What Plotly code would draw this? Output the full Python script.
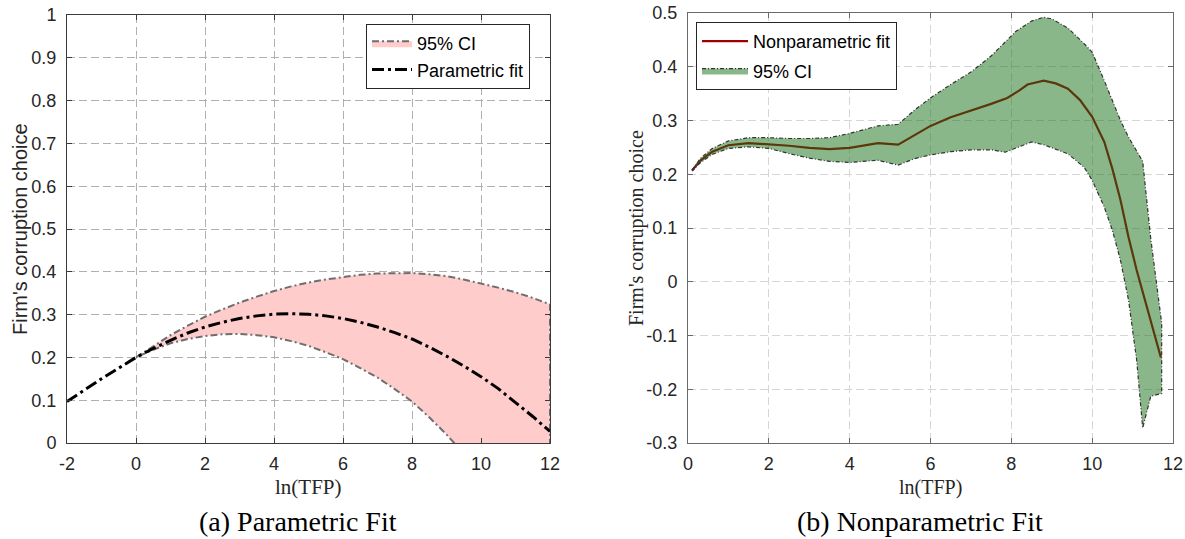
import plotly.graph_objects as go

# ---------------- Data: (a) Parametric fit ----------------
par_x = [-2, -1.5, -1, -0.5, 0, 0.5, 1, 1.5, 2, 2.5, 3, 3.5, 4, 4.5, 5, 5.5, 6, 6.5, 7, 7.5,
         8, 8.5, 9, 9.5, 10, 10.5, 11, 11.5, 12]
par_fit = [0.097, 0.124, 0.150, 0.175, 0.200, 0.221, 0.240, 0.257, 0.271, 0.282, 0.291, 0.297,
           0.301, 0.302, 0.301, 0.297, 0.291, 0.282, 0.271, 0.258, 0.243, 0.224, 0.203, 0.180,
           0.155, 0.127, 0.095, 0.062, 0.027]

par_ci_x = [0, 0.5, 1, 1.5, 2, 2.5, 3, 3.5, 4, 4.5, 5, 5.5, 6, 6.5, 7, 7.5, 8, 8.5, 9, 9.5,
            10, 10.5, 11, 11.5, 12]
par_ci_upper = [0.200, 0.227, 0.252, 0.274, 0.295, 0.312, 0.328, 0.342, 0.355, 0.366, 0.375, 0.382,
                0.388, 0.393, 0.396, 0.397, 0.397, 0.394, 0.390, 0.382, 0.373, 0.363, 0.352, 0.339, 0.324]
par_ci_lower = [0.200, 0.218, 0.233, 0.243, 0.250, 0.254, 0.255, 0.252, 0.247, 0.238, 0.227, 0.212,
                0.196, 0.175, 0.153, 0.126, 0.097, 0.060, 0.020, -0.024, -0.070, -0.120, -0.175,
                -0.232, -0.290]

# ---------------- Data: (b) Nonparametric fit ----------------
np_x = [0.1, 0.3, 0.6, 1.0, 1.5, 2.0, 2.5, 3.0, 3.5, 4.0, 4.5, 4.7, 5.2, 5.6, 6.0, 6.5, 7.0, 7.5,
        7.9, 8.2, 8.4, 8.8, 9.1, 9.4, 9.7, 10.0, 10.3, 10.5, 10.7, 10.9, 11.1, 11.3, 11.5, 11.7]
np_fit = [0.207, 0.225, 0.242, 0.254, 0.258, 0.256, 0.253, 0.249, 0.2466, 0.249, 0.256, 0.258, 0.255,
          0.273, 0.290, 0.306, 0.318, 0.331, 0.342, 0.356, 0.367, 0.374, 0.369, 0.359, 0.338, 0.307,
          0.260, 0.210, 0.152, 0.083, 0.022, -0.033, -0.083, -0.141]

np_ci_x = [0.1, 0.3, 0.6, 1.0, 1.5, 2.0, 2.5, 3.0, 3.5, 4.0, 4.5, 4.7, 5.2, 5.6, 6.0, 6.5, 7.0, 7.5,
           7.85, 8.1, 8.5, 8.8, 9.0, 9.4, 9.8, 10.0, 10.3, 10.5, 10.7, 10.9, 11.1, 11.25, 11.45, 11.72]
np_ci_upper = [0.207, 0.229, 0.248, 0.262, 0.268, 0.268, 0.2665, 0.2665, 0.268, 0.276, 0.286, 0.290,
               0.293, 0.319, 0.342, 0.367, 0.390, 0.420, 0.446, 0.465, 0.485, 0.492, 0.489, 0.472,
               0.443, 0.427, 0.374, 0.336, 0.300, 0.269, 0.242, 0.224, 0.080, -0.077]
np_ci_lower = [0.206, 0.221, 0.237, 0.248, 0.251, 0.248, 0.2385, 0.230, 0.224, 0.222, 0.225, 0.226,
               0.217, 0.229, 0.236, 0.242, 0.2455, 0.2455, 0.241, 0.249, 0.260, 0.255, 0.250, 0.238,
               0.213, 0.189, 0.139, 0.096, 0.040, -0.034, -0.145, -0.272, -0.213, -0.208]

left_xticks = [-2, 0, 2, 4, 6, 8, 10, 12]
left_yticks = [0, 0.1, 0.2, 0.3, 0.4, 0.5, 0.6, 0.7, 0.8, 0.9, 1]
right_xticks = [0, 2, 4, 6, 8, 10, 12]
right_yticks = [-0.3, -0.2, -0.1, 0, 0.1, 0.2, 0.3, 0.4, 0.5]


def lab(v):
    return "%g" % v  # ASCII hyphen minus, as in the reference


fig = go.Figure()

# (a) band
fig.add_trace(go.Scatter(
    x=par_ci_x + par_ci_x[::-1],
    y=par_ci_upper + par_ci_lower[::-1],
    fill="toself", fillcolor="#FFCCCC",
    line=dict(color="#6E6E6E", width=2, dash="7px,3px,2px,3px"),
    mode="lines", name="95% CI", xaxis="x", yaxis="y", legend="legend",
    hoverinfo="skip"))
# (a) fit
fig.add_trace(go.Scatter(
    x=par_x, y=par_fit, mode="lines", name="Parametric fit",
    line=dict(color="black", width=3, dash="12px,4px,3px,4px"),
    xaxis="x", yaxis="y", legend="legend"))

# (b) fit (drawn under translucent band -> brownish)
fig.add_trace(go.Scatter(
    x=np_x, y=np_fit, mode="lines", name="Nonparametric fit",
    line=dict(color="#A00000", width=2.2),
    xaxis="x2", yaxis="y2", legend="legend2", legendgroup="a"))
# (b) band
fig.add_trace(go.Scatter(
    x=np_ci_x + np_ci_x[::-1],
    y=np_ci_upper + np_ci_lower[::-1],
    fill="toself", fillcolor="rgba(21,111,21,0.5)",
    line=dict(color="#333333", width=1.2, dash="4px,2px,1px,2px"),
    mode="lines", name="95% CI", xaxis="x2", yaxis="y2", legend="legend2", legendgroup="b",
    hoverinfo="skip"))

tickfont = dict(family="Liberation Sans, Arial, sans-serif", size=18, color="#262626")

common_axis = dict(showline=True, mirror="ticks", ticks="inside", ticklen=5, tickwidth=1,
                   showgrid=True, griddash="8px,4px", zeroline=False, tickfont=tickfont,
                   automargin=False)

W, H = 1185, 539

fig.update_layout(
    width=W, height=H,
    margin=dict(l=0, r=0, t=0, b=0, pad=0, autoexpand=False),
    paper_bgcolor="white", plot_bgcolor="white",
    xaxis=dict(domain=[67 / W, 550 / W], range=[-2, 12], tickvals=left_xticks,
               ticktext=[lab(v) for v in left_xticks], anchor="y",
               linecolor="#3a3a3a", tickcolor="#3a3a3a", gridcolor="#b0b0b0",
               ticklabelstandoff=4, **common_axis),
    yaxis=dict(domain=[1 - 443 / H, 1 - 15 / H], range=[0, 1], tickvals=left_yticks,
               ticktext=[lab(v) for v in left_yticks], anchor="x",
               linecolor="#3a3a3a", tickcolor="#3a3a3a", gridcolor="#b0b0b0",
               ticklabelstandoff=6, **common_axis),
    xaxis2=dict(domain=[688 / W, 1173 / W], range=[0, 12], tickvals=right_xticks,
                ticktext=[lab(v) for v in right_xticks], anchor="y2",
                linecolor="#6a6a6a", tickcolor="#6a6a6a", gridcolor="#d6d6d6",
                ticklabelstandoff=4, **common_axis),
    yaxis2=dict(domain=[1 - 443 / H, 1 - 13 / H], range=[-0.3, 0.5], tickvals=right_yticks,
                ticktext=[lab(v) for v in right_yticks], anchor="x2",
                linecolor="#6a6a6a", tickcolor="#6a6a6a", gridcolor="#d6d6d6",
                ticklabelstandoff=6, **common_axis),
    legend=dict(x=366 / W, y=1 - 24 / H, xanchor="left", yanchor="top",
                bgcolor="white", bordercolor="#262626", borderwidth=1,
                font=dict(family="Liberation Sans, Arial, sans-serif", size=18, color="black"),
                tracegroupgap=0, itemwidth=40),
    legend2=dict(x=696 / W, y=1 - 22 / H, xanchor="left", yanchor="top",
                 bgcolor="white", bordercolor="#262626", borderwidth=1,
                 font=dict(family="Liberation Sans, Arial, sans-serif", size=18, color="black"),
                 traceorder="grouped", tracegroupgap=3, itemwidth=46),
    showlegend=True,
)

serif = "Liberation Serif, Times New Roman, serif"
annotations = [
    dict(text="ln(TFP)", x=(67 + 550) / 2 / W, y=1 - 487 / H, font=dict(family=serif, size=21, color="#262626")),
    dict(text="ln(TFP)", x=(688 + 1173) / 2 / W, y=1 - 487 / H, font=dict(family=serif, size=20, color="#262626")),
    dict(text="Firm's corruption choice", x=20 / W, y=1 - 229 / H, textangle=-90,
         font=dict(family="Liberation Sans, Arial, sans-serif", size=20, color="#262626")),
    dict(text="Firm's corruption choice", x=636 / W, y=1 - 228 / H, textangle=-90,
         font=dict(family=serif, size=20, color="#262626")),
    dict(text="(a) Parametric Fit", x=298 / W, y=1 - 521 / H, font=dict(family=serif, size=28, color="black")),
    dict(text="(b) Nonparametric Fit", x=920 / W, y=1 - 521 / H, font=dict(family=serif, size=28, color="black")),
]
for a in annotations:
    a.update(xref="paper", yref="paper", showarrow=False, xanchor="center", yanchor="middle")
fig.update_layout(annotations=annotations)

# remove the page's default 8px body margin so the figure sits at the window origin
fig.write_html("out.html", config={"displayModeBar": False},
               post_script="document.body.style.margin='0px';document.body.style.overflow='hidden';")
